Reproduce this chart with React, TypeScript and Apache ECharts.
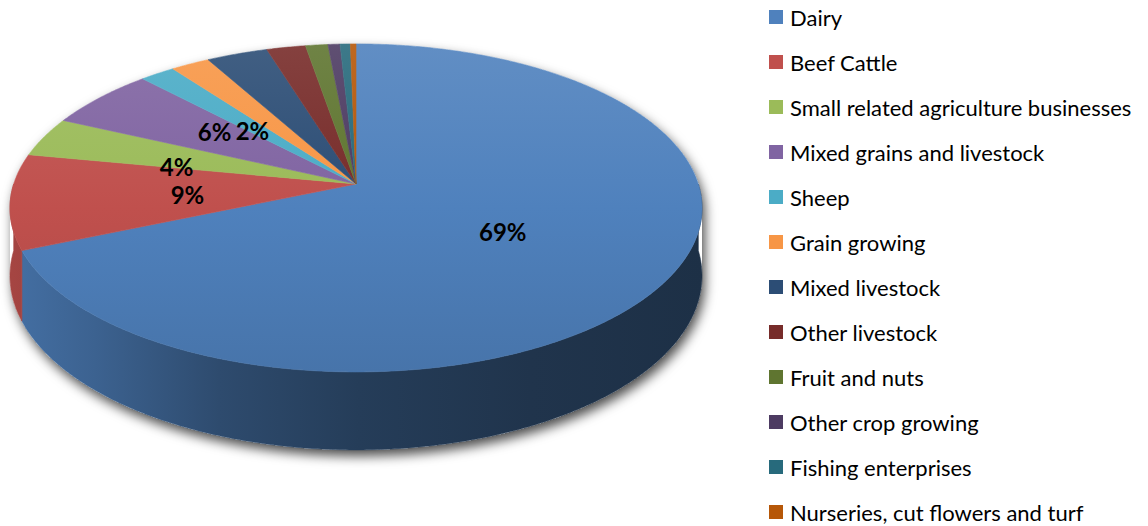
import React, { useEffect, useRef } from "react";
import * as echarts from "echarts";

// ---- data ----
const categories = [
  "Dairy",
  "Beef Cattle",
  "Small related agriculture businesses",
  "Mixed grains and livestock",
  "Sheep",
  "Grain growing",
  "Mixed livestock",
  "Other livestock",
  "Fruit and nuts",
  "Other crop growing",
  "Fishing enterprises",
  "Nurseries, cut flowers and turf",
];
const shares = [68.6, 9.4, 3.9, 6.0, 1.9, 2.1, 3.3, 2.1, 1.2, 0.65, 0.55, 0.3];
const shownLabels = [true, true, true, true, true, false, false, false, false, false, false, false];

// ---- styling ----
const colors = [
  "#4F81BD", "#C0504D", "#9BBB59", "#8064A2", "#4BACC6", "#F79646",
  "#2C4D75", "#772C2A", "#5F7530", "#4D3B62", "#276A7C", "#B65708",
];
const labelNudge: Record<number, [number, number]> = { 2: [-20, 7], 3: [-8, -8], 4: [1, 5], 0: [-2, 1], 1: [3, 2] };

// perspective pie geometry
const CX = 356;
const CY = 184;
const SX = 342.3;
const SY = 160.5;
const K = 0.146;
const SZ = 66.6;

function project(thetaDeg: number, r: number, d: number): [number, number] {
  const t = (thetaDeg * Math.PI) / 180;
  const x = r * Math.sin(t);
  const y = -r * Math.cos(t);
  const w = 1 - K * y;
  return [CX + (SX * x) / w, CY + (SY * y + SZ * d) / w];
}

function arc(a1: number, a2: number, d: number): [number, number][] {
  const pts: [number, number][] = [];
  const n = Math.max(2, Math.ceil(Math.abs(a2 - a1) / 0.5));
  for (let i = 0; i <= n; i++) pts.push(project(a1 + ((a2 - a1) * i) / n, 1, d));
  return pts;
}

function rgb(h: string): number[] {
  const n = parseInt(h.slice(1), 16);
  return [(n >> 16) & 255, (n >> 8) & 255, n & 255];
}
function shade(h: string, f: number): string {
  const [r, g, b] = rgb(h);
  return `rgb(${Math.round(r * f)},${Math.round(g * f)},${Math.round(b * f)})`;
}
function tint(h: string, t: number): string {
  const [r, g, b] = rgb(h);
  const m = (c: number) => Math.round(c + (255 - c) * t);
  return `rgb(${m(r)},${m(g)},${m(b)})`;
}

const total = shares.reduce((a, b) => a + b, 0);
const startAngles: number[] = [];
{
  let acc = 0;
  for (const v of shares) {
    startAngles.push((acc / total) * 360);
    acc += v;
  }
}

function sliceRender(i: number) {
  return (params: any, api: any) => {
    const v = api.value(0);
    const a1 = startAngles[i];
    const a2 = a1 + (v / total) * 360;
    const c = colors[i];
    const children: any[] = [];

    // outer wall (front half only)
    const s = Math.max(a1, 90);
    const e = Math.min(a2, 270);
    if (e > s) {
      const wallGrad = new echarts.graphic.LinearGradient(
        12, 0, 704, 0,
        [
          { offset: 0, color: shade(c, 0.86) },
          { offset: 0.12, color: shade(c, 0.76) },
          { offset: 0.3, color: shade(c, 0.58) },
          { offset: 0.5, color: shade(c, 0.47) },
          { offset: 0.75, color: shade(c, 0.4) },
          { offset: 1, color: shade(c, 0.37) },
        ],
        true
      );
      const pts = arc(s, e, 0).concat(arc(e, s, 1));
      children.push({
        type: "polygon",
        shape: { points: pts },
        style: { fill: wallGrad, stroke: wallGrad, lineWidth: 0.6 },
        z2: 10,
      });
    }

    // top face
    const topGrad = new echarts.graphic.LinearGradient(
      0, 44, 0, 372,
      [
        { offset: 0, color: tint(c, 0.1) },
        { offset: 0.5, color: c },
        { offset: 1, color: shade(c, 0.9) },
      ],
      true
    );
    const topPts = [project(0, 0, 0) as [number, number]].concat(arc(a1, a2, 0));
    children.push({
      type: "polygon",
      shape: { points: topPts },
      style: { fill: topGrad, stroke: topGrad, lineWidth: 0.6 },
      z2: 50,
    });

    if (shownLabels[i]) {
      const mid = (a1 + a2) / 2;
      const [lx, ly] = project(mid, 0.5, 0);
      const nud = labelNudge[i] || [0, 0];
      children.push({
        type: "text",
        x: lx + nud[0],
        y: ly + nud[1],
        style: {
          text: Math.round((v / total) * 100) + "%",
          fontFamily: "Lato",
          fontWeight: "bold",
          fontSize: 24,
          fill: "#000",
          align: "center",
          verticalAlign: "middle",
        },
        z2: 100,
      });
    }
    return { type: "group", children };
  };
}

function shadowRender() {
  const pts = arc(262, 458, 0).concat(arc(98, 262, 1));
  return {
    type: "polygon",
    shape: { points: pts },
    style: {
      fill: "#ffffff",
      shadowBlur: 12,
      shadowColor: "rgba(0,0,0,0.7)",
      shadowOffsetX: 3,
      shadowOffsetY: 6,
    },
    z2: 0,
  };
}

export default function App() {
  const ref = useRef<HTMLDivElement>(null);
  useEffect(() => {
    if (!ref.current) return;
    const chart = echarts.init(ref.current, undefined, { renderer: "svg" });
    const series: any[] = [
      {
        type: "custom",
        name: "__shadow",
        coordinateSystem: "none",
        silent: true,
        data: [[0]],
        renderItem: shadowRender,
      },
    ];
    categories.forEach((name, i) => {
      series.push({
        type: "custom",
        name,
        coordinateSystem: "none",
        silent: true,
        itemStyle: { color: colors[i] },
        data: [[shares[i]]],
        renderItem: sliceRender(i),
      });
    });
    chart.setOption({
      animation: false,
      backgroundColor: "#ffffff",
      legend: {
        orient: "vertical",
        left: 769,
        top: 6,
        padding: 0,
        itemWidth: 14,
        itemHeight: 14,
        itemGap: 23,
        icon: "rect",
        selectedMode: false,
        data: categories,
        textStyle: {
          fontFamily: "Lato",
          fontSize: 22,
          lineHeight: 22,
          color: "#000",
          padding: [0, 0, 0, 2],
        },
      },
      series,
    });
    return () => chart.dispose();
  }, []);
  return (
    <div
      ref={ref}
      style={{ position: "fixed", left: 0, top: 0, width: 1148, height: 526 }}
    />
  );
}
